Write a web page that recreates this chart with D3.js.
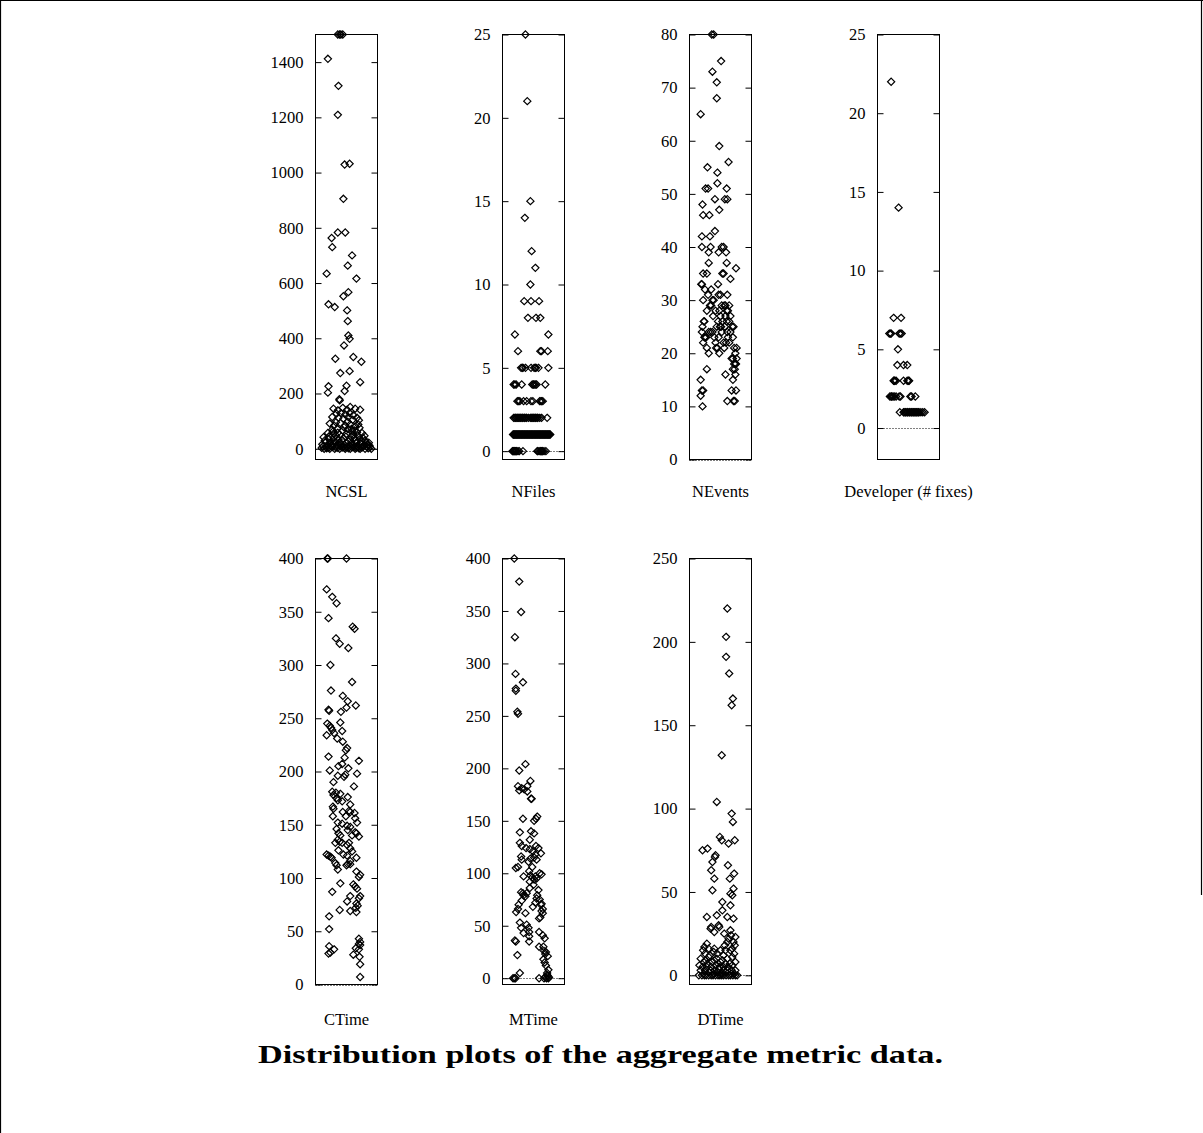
<!DOCTYPE html>
<html>
<head>
<meta charset="utf-8">
<script src="https://cdn.jsdelivr.net/npm/d3@7"></script>
<style>
  html, body { margin: 0; padding: 0; background: #fff; }
  svg { display: block; }
</style>
</head>
<body>
<svg id="chart" width="1203" height="1133"></svg>
<script>
// ---------- DATA (each point: [horizontal jitter 0..1, value]) ----------
const panelNames = ["NCSL", "NFiles", "NEvents", "Developer (# fixes)", "CTime", "MTime", "DTime"];

const ncslTicks = [0, 200, 400, 600, 800, 1000, 1200, 1400];
const nfilesTicks = [0, 5, 10, 15, 20, 25];
const neventsTicks = [0, 10, 20, 30, 40, 50, 60, 70, 80];
const developerTicks = [0, 5, 10, 15, 20, 25];
const ctimeTicks = [0, 50, 100, 150, 200, 250, 300, 350, 400];
const mtimeTicks = [0, 50, 100, 150, 200, 250, 300, 350, 400];
const dtimeTicks = [0, 50, 100, 150, 200, 250];

const ncslDomain = [-39, 1500];
const nfilesDomain = [-0.5, 25];
const neventsDomain = [0, 80];
const developerDomain = [-2, 25];
const ctimeDomain = [0, 400];
const mtimeDomain = [-6, 400];
const dtimeDomain = [-5.5, 250];

const ncslData = [
  [0.36,1500],[0.39,1500],[0.41,1500],[0.44,1500],
  [0.20,1412],[0.37,1314],[0.36,1209],[0.47,1029],[0.55,1032],[0.45,905],
  [0.26,763],[0.36,783],[0.48,783],[0.27,730],[0.59,700],[0.52,663],[0.18,634],[0.66,616],
  [0.21,523],[0.31,513],[0.45,552],[0.53,567],[0.51,501],[0.52,462],[0.53,410],[0.55,398],[0.46,374],
  [0.32,326],[0.61,332],[0.74,315],[0.40,274],[0.55,281],[0.21,226],[0.20,203],[0.50,228],[0.47,209],[0.72,241],
  [0.385,179],[0.39,175],
  [0.29,145],[0.36,139],[0.44,148],[0.51,141],[0.56,151],[0.64,145],[0.72,141],
  [0.34,127],[0.41,129],[0.48,124],[0.55,129],[0.61,121],
  [0.27,115],[0.37,112],[0.45,109],[0.53,115],[0.60,105],[0.67,112],[0.70,103],
  [0.23,91],[0.30,84],[0.40,93],[0.48,84],[0.56,88],[0.64,81],[0.71,76],
  [0.27,69],[0.35,72],[0.44,66],[0.52,71],[0.59,64],[0.67,60],
  [0.20,57],[0.29,54],[0.39,51],[0.50,54],[0.61,52],[0.75,57],[0.79,47],
  [0.28,62],[0.36,58],[0.46,78],[0.58,72],[0.33,96],[0.52,98],[0.63,66],[0.69,88],
  [0.13,42],[0.21,36],[0.29,40],[0.37,33],[0.45,37],[0.55,33],[0.63,39],[0.71,34],[0.80,30],
  [0.15,30],[0.22,45],[0.30,28],[0.33,48],[0.42,30],[0.49,44],[0.53,26],[0.58,44],[0.65,30],[0.69,47],[0.74,26],[0.77,38],
  [0.16,24],[0.24,21],[0.32,25],[0.40,18],[0.50,23],[0.57,18],[0.66,23],[0.73,18],[0.82,21],[0.86,22],
  [0.11,16],[0.26,15],[0.29,18],[0.38,22],[0.46,14],[0.55,12],[0.61,14],[0.84,13],[0.87,12],
  [0.12,8],[0.19,12],[0.27,6],[0.35,11],[0.43,4],[0.51,8],[0.59,5],[0.67,10],[0.75,4],[0.83,7],[0.78,14],[0.88,5],
  [0.17,6],[0.25,9],[0.33,4],[0.41,10],[0.47,3],[0.62,6],[0.69,5],[0.77,9],[0.45,6],
  [0.10,3],[0.14,0],[0.18,2],[0.21,3],[0.23,0],[0.31,0],[0.36,3],[0.39,0],[0.48,0],[0.53,2],[0.56,0],[0.64,0],[0.66,3],[0.70,2],[0.72,0],[0.80,0],[0.85,2],[0.90,0]
];

const nfilesData = [
  [0.37,25],[0.40,21],[0.45,15],[0.36,14],[0.47,12],[0.53,11],[0.45,10],
  [0.35,9],[0.46,9],[0.59,9],[0.41,8],[0.54,8],[0.61,8],[0.20,7],[0.74,7],
  [0.25,6],[0.61,6],[0.63,6],[0.73,6],
  [0.30,5],[0.32,5],[0.33,5],[0.37,5],[0.46,5],[0.51,5],[0.53,5],[0.54,5],[0.58,5],[0.74,5],
  [0.18,4],[0.20,4],[0.22,4],[0.31,4],[0.48,4],[0.50,4],[0.51,4],[0.53,4],[0.55,4],[0.69,4],
  [0.24,3],[0.26,3],[0.28,3],[0.34,3],[0.39,3],[0.46,3],[0.49,3],[0.60,3],[0.62,3],[0.63,3],[0.65,3],
  [0.18,2],[0.20,2],[0.21,2],[0.23,2],[0.24,2],[0.26,2],[0.27,2],[0.29,2],[0.30,2],[0.32,2],[0.33,2],[0.35,2],[0.36,2],[0.38,2],[0.39,2],[0.42,2],[0.45,2],[0.47,2],[0.48,2],[0.50,2],[0.51,2],[0.53,2],[0.54,2],[0.56,2],[0.57,2],[0.60,2],[0.63,2],[0.72,2],
  [0.17,1],[0.18,1],[0.19,1],[0.20,1],[0.21,1],[0.22,1],[0.23,1],[0.24,1],[0.25,1],[0.26,1],[0.27,1],[0.28,1],[0.29,1],[0.30,1],[0.31,1],[0.32,1],[0.33,1],[0.34,1],[0.35,1],[0.36,1],[0.37,1],[0.38,1],[0.39,1],[0.40,1],[0.41,1],[0.42,1],[0.43,1],[0.44,1],[0.45,1],[0.46,1],[0.47,1],[0.48,1],[0.49,1],[0.50,1],[0.51,1],[0.52,1],[0.53,1],[0.54,1],[0.55,1],[0.56,1],[0.57,1],[0.58,1],[0.59,1],[0.60,1],[0.61,1],[0.62,1],[0.63,1],[0.64,1],[0.65,1],[0.66,1],[0.67,1],[0.68,1],[0.69,1],[0.70,1],[0.71,1],[0.72,1],[0.73,1],[0.74,1],[0.75,1],[0.76,1],[0.77,1],
  [0.16,0],[0.17,0],[0.18,0],[0.19,0],[0.20,0],[0.21,0],[0.22,0],[0.23,0],[0.25,0],[0.27,0],[0.33,0],
  [0.56,0],[0.57,0],[0.59,0],[0.61,0],[0.62,0],[0.63,0],[0.64,0],[0.65,0],[0.67,0],[0.70,0]
];

const neventsData = [
  [0.36,80],[0.39,80],[0.51,75],[0.37,73],[0.44,71],[0.44,68],[0.18,65],[0.48,59],[0.63,56],[0.29,55],[0.45,54],[0.45,52],
  [0.26,51],[0.30,51],[0.60,51],[0.41,49],[0.57,49],[0.61,49],[0.21,48],[0.48,47],[0.22,46],[0.32,46],[0.41,43],[0.20,42],[0.33,42],
  [0.20,40],[0.34,40],[0.52,40],[0.55,40],[0.31,39],[0.47,39],[0.59,39],[0.31,37],[0.60,37],[0.75,36],
  [0.22,35],[0.28,35],[0.53,35],[0.55,35],[0.66,34],[0.19,33],[0.20,33],[0.46,33],[0.25,32],[0.35,32],
  [0.30,31],[0.47,31],[0.50,31],[0.61,31],[0.22,30],[0.37,30],[0.39,30],
  [0.33,29],[0.35,29],[0.52,29],[0.56,29],[0.58,29],[0.64,29],
  [0.28,28],[0.42,28],[0.48,28],[0.60,28],[0.62,28],
  [0.38,27],[0.50,27],[0.58,27],[0.66,27],
  [0.23,26],[0.24,26],[0.46,26],[0.53,26],[0.60,26],[0.64,26],
  [0.21,25],[0.44,25],[0.49,25],[0.51,25],[0.57,25],[0.69,25],[0.71,25],
  [0.20,24],[0.31,24],[0.34,24],[0.37,24],[0.52,24],[0.61,24],[0.66,24],
  [0.24,23],[0.25,23],[0.27,23],[0.40,23],[0.47,23],[0.62,23],[0.70,23],
  [0.22,22],[0.42,22],[0.55,22],[0.59,22],[0.64,22],
  [0.28,21],[0.43,21],[0.45,21],[0.56,21],[0.72,21],[0.76,21],
  [0.31,20],[0.48,20],[0.74,20],
  [0.68,19],[0.70,19],[0.76,19],[0.72,18],[0.74,18],[0.75,18],
  [0.28,17],[0.70,17],[0.73,17],[0.58,16],[0.74,16],[0.18,15],[0.70,15],
  [0.20,13],[0.22,13],[0.68,13],[0.75,13],[0.18,12],[0.61,11],[0.71,11],[0.73,11],[0.21,10]
];

const developerData = [
  [0.22,22],[0.34,14],[0.26,7],[0.38,7],[0.19,6],[0.21,6],[0.22,6],[0.35,6],[0.37,6],[0.39,6],[0.33,5],
  [0.32,4],[0.42,4],[0.48,4],
  [0.26,3],[0.27,3],[0.28,3],[0.30,3],[0.42,3],[0.48,3],[0.50,3],[0.51,3],
  [0.20,2],[0.22,2],[0.23,2],[0.25,2],[0.27,2],[0.30,2],[0.35,2],[0.37,2],[0.53,2],[0.55,2],[0.61,2],
  [0.36,1],[0.42,1],[0.43,1],[0.45,1],[0.46,1],[0.48,1],[0.49,1],[0.51,1],[0.52,1],[0.54,1],[0.55,1],[0.57,1],[0.58,1],[0.60,1],[0.61,1],[0.63,1],[0.64,1],[0.66,1],[0.67,1],[0.70,1],[0.73,1],[0.76,1]
];

const ctimeData = [
  [0.19,400],[0.20,400],[0.50,400],[0.18,371],[0.27,364],[0.34,358],[0.21,344],[0.60,336],[0.63,334],
  [0.33,325],[0.39,320],[0.53,316],[0.24,300],[0.59,284],[0.25,276],[0.44,271],[0.52,266],[0.65,262],[0.50,260],
  [0.21,258],[0.22,257],[0.41,256],[0.40,246],[0.19,245],[0.23,243],[0.25,241],[0.27,239],[0.43,238],[0.30,236],
  [0.18,234],[0.35,231],[0.44,228],[0.51,222],[0.49,220],[0.47,213],[0.21,214],[0.70,210],[0.43,207],
  [0.53,203],[0.37,205],[0.23,201],[0.67,198],[0.36,196],[0.48,197],[0.46,195],[0.29,190],[0.62,186],
  [0.27,181],[0.33,180],[0.40,179],[0.29,178],[0.34,175],[0.36,173],[0.52,176],[0.43,172],[0.56,169],
  [0.28,167],[0.29,165],[0.54,163],[0.56,162],[0.44,162],[0.63,161],[0.49,158],[0.28,158],[0.64,156],
  [0.36,152],[0.67,152],[0.43,151],[0.56,148],[0.51,149],[0.34,146],[0.52,145],[0.64,143],[0.66,142],
  [0.37,142],[0.40,140],[0.59,140],[0.70,139],[0.36,136],[0.39,134],[0.43,133],[0.54,133],[0.32,133],[0.51,131],
  [0.56,128],[0.37,126],[0.59,125],[0.18,122],[0.21,121],[0.45,122],[0.51,121],[0.24,120],[0.26,119],[0.66,119],
  [0.56,116],[0.32,114],[0.52,113],[0.56,113],[0.34,112],[0.50,112],[0.36,108],[0.66,106],
  [0.72,103],[0.70,101],[0.40,95],[0.61,94],[0.64,92],[0.67,90],[0.27,87],[0.56,83],[0.72,83],[0.70,81],
  [0.51,78],[0.66,76],[0.68,74],[0.65,72],[0.39,70],[0.56,69],[0.66,68],[0.22,64],[0.22,52],
  [0.70,43],[0.72,40],[0.70,38],[0.22,36],[0.72,37],[0.30,33],[0.65,34],[0.70,33],[0.24,30],[0.21,29],[0.61,28],
  [0.71,26],[0.72,19],[0.72,7]
];

const mtimeData = [
  [0.19,400],[0.27,378],[0.30,349],[0.20,325],[0.21,290],[0.33,282],[0.215,276],[0.215,274],[0.24,254],[0.25,252],
  [0.37,204],[0.27,198],[0.45,188],[0.25,183],[0.40,183],[0.31,181],[0.27,179],[0.35,180],[0.40,178],
  [0.47,171],[0.46,171],[0.56,154],[0.54,152],[0.33,152],[0.51,150],
  [0.28,139],[0.46,140],[0.51,138],[0.44,132],[0.28,129],[0.31,126],[0.54,126],[0.58,124],[0.38,124],[0.44,123],
  [0.49,121],[0.62,119],[0.53,118],[0.30,116],[0.31,113],[0.45,114],[0.55,113],[0.51,115],[0.42,111],
  [0.48,106],[0.215,105],[0.25,106],[0.43,102],[0.60,100],[0.63,99],[0.45,98],[0.48,96],[0.34,97],[0.53,97],
  [0.51,94],[0.44,92],[0.55,95],[0.50,89],[0.58,84],[0.44,86],[0.30,82],[0.33,81],[0.39,81],
  [0.34,79],[0.37,78],[0.56,79],[0.60,75],[0.55,76],[0.31,74],[0.63,71],[0.26,70],[0.53,72],[0.62,70],
  [0.49,68],[0.65,66],[0.25,66],[0.63,64],[0.65,62],[0.22,63],[0.37,62],[0.61,58],[0.59,57],
  [0.28,53],[0.39,51],[0.42,48],[0.30,48],[0.34,43],[0.43,44],[0.59,44],[0.43,40],[0.65,41],[0.68,38],
  [0.20,36],[0.215,35],[0.43,35],[0.59,30],[0.66,30],[0.67,26],[0.70,25],[0.69,23],[0.73,21],[0.24,22],
  [0.66,18],[0.68,15],[0.70,12],[0.74,8],[0.28,5],[0.72,5],[0.73,2],
  [0.17,0],[0.19,0],[0.21,0],[0.59,0],[0.67,0],[0.69,1],[0.71,0],[0.72,3],[0.74,0],[0.75,1]
];

const dtimeData = [
  [0.61,220],[0.59,203],[0.59,191],[0.64,181],[0.70,166],[0.68,162],[0.52,132],[0.44,104],
  [0.68,97],[0.70,92],[0.49,83],[0.52,81],[0.73,81],[0.63,79],[0.21,75],[0.29,76],[0.42,72],[0.41,71],
  [0.37,68],[0.62,66],[0.35,63],[0.72,61],[0.40,58],[0.65,58],[0.71,52],[0.37,51],[0.66,49],[0.69,48],
  [0.53,44],[0.66,42],[0.53,39],[0.28,35],[0.44,36],[0.61,35],[0.71,34],
  [0.47,30],[0.48,29],[0.35,29],[0.34,28],[0.66,27],[0.56,25],[0.40,26],[0.67,24],[0.74,23],[0.63,22],
  [0.61,20],[0.28,19],[0.71,20],[0.57,18],[0.24,17],[0.73,18],[0.40,16],[0.31,16],[0.58,15],[0.69,16],
  [0.22,15],[0.50,15],[0.66,15],[0.25,13],[0.39,14],[0.55,12],[0.72,13],[0.45,13],[0.33,12],
  [0.18,10],[0.31,11],[0.44,10],[0.61,10],[0.69,11],[0.26,9],[0.53,9],[0.40,9],
  [0.23,8],[0.36,8],[0.50,8],[0.65,7],[0.74,8],[0.29,7],[0.46,7],[0.58,7],
  [0.16,6],[0.28,5],[0.42,6],[0.55,5],[0.69,6],[0.21,5],[0.35,5],[0.49,5],[0.62,5],
  [0.18,3],[0.34,3],[0.47,4],[0.61,3],[0.74,3],[0.25,3],[0.40,3],[0.54,3],[0.68,3],
  [0.23,1],[0.39,1],[0.52,1],[0.67,1],[0.31,2],[0.45,2],[0.58,2],[0.72,1],
  [0.15,0],[0.20,0],[0.24,0],[0.27,0],[0.31,0],[0.35,0],[0.38,0],[0.42,0],[0.46,0],[0.49,0],[0.52,0],[0.55,0],[0.59,0],[0.63,0],[0.66,0],[0.70,0],[0.74,0],[0.77,0]
];

// ---------- LAYOUT ----------
const panels = [
  { label: panelNames[0], col: 0, row: 0, domain: ncslDomain, ticks: ncslTicks, data: ncslData },
  { label: panelNames[1], col: 1, row: 0, domain: nfilesDomain, ticks: nfilesTicks, data: nfilesData },
  { label: panelNames[2], col: 2, row: 0, domain: neventsDomain, ticks: neventsTicks, data: neventsData },
  { label: panelNames[3], col: 3, row: 0, domain: developerDomain, ticks: developerTicks, data: developerData },
  { label: panelNames[4], col: 0, row: 1, domain: ctimeDomain, ticks: ctimeTicks, data: ctimeData },
  { label: panelNames[5], col: 1, row: 1, domain: mtimeDomain, ticks: mtimeTicks, data: mtimeData },
  { label: panelNames[6], col: 2, row: 1, domain: dtimeDomain, ticks: dtimeTicks, data: dtimeData }
];

const colLeft = [315, 502, 689, 877];
const boxW = 62;
const rowTop = [34, 558];
const rowBottom = [459, 984];
const labelBaseline = [497, 1025];
const fontFamily = "'Liberation Serif', 'Times New Roman', serif";

const svg = d3.select("#chart");

// page frame
svg.append("line").attr("x1", 0.5).attr("x2", 0.5).attr("y1", 0).attr("y2", 1133)
  .attr("stroke", "#000").attr("stroke-width", 1.2);
svg.append("line").attr("x1", 0).attr("x2", 1203).attr("y1", 0.5).attr("y2", 0.5)
  .attr("stroke", "#000").attr("stroke-width", 1.2);
svg.append("line").attr("x1", 1201.5).attr("x2", 1201.5).attr("y1", 0).attr("y2", 895)
  .attr("stroke", "#000").attr("stroke-width", 1.2);

const diamond = "M0,-3.6L3.6,0L0,3.6L-3.6,0Z";

panels.forEach(p => {
  const x0 = colLeft[p.col] + 0.5;
  const x1 = x0 + boxW;
  const yTop = rowTop[p.row] + 0.5;
  const yBot = rowBottom[p.row] + 0.5;

  const y = d3.scaleLinear().domain(p.domain).range([yBot, yTop]);
  const xj = d3.scaleLinear().domain([0, 1]).range([x0, x1]);

  const g = svg.append("g");

  // zero line (dotted)
  if (p.domain[0] <= 0 && p.domain[1] >= 0) {
    g.append("line")
      .attr("x1", x0).attr("x2", x1)
      .attr("y1", Math.round(y(0)) + 0.5).attr("y2", Math.round(y(0)) + 0.5)
      .attr("stroke", "#000").attr("stroke-width", 1)
      .attr("stroke-dasharray", "1,2");
  }

  // left axis (labels + inward ticks)
  const leftAxis = d3.axisLeft(y).tickValues(p.ticks).tickFormat(d3.format("d"))
    .tickSizeInner(-6).tickSizeOuter(0).tickPadding(12);
  const la = g.append("g").attr("transform", `translate(${x0},0)`).call(leftAxis);
  la.select(".domain").remove();
  la.selectAll(".tick line").attr("stroke", "#000");
  la.selectAll(".tick text")
    .attr("font-family", fontFamily).attr("font-size", 16.5).attr("fill", "#000");

  // right axis (inward ticks only)
  const rightAxis = d3.axisRight(y).tickValues(p.ticks).tickSizeInner(-6).tickSizeOuter(0).tickFormat("");
  const ra = g.append("g").attr("transform", `translate(${x1},0)`).call(rightAxis);
  ra.select(".domain").remove();
  ra.selectAll(".tick line").attr("stroke", "#000");

  // box
  g.append("rect")
    .attr("x", x0).attr("y", yTop).attr("width", x1 - x0).attr("height", yBot - yTop)
    .attr("fill", "none").attr("stroke", "#000").attr("stroke-width", 1);

  // points
  g.selectAll("path.pt").data(p.data).enter().append("path")
    .attr("class", "pt")
    .attr("d", diamond)
    .attr("transform", d => `translate(${xj(d[0])},${y(d[1])})`)
    .attr("fill", "none")
    .attr("stroke", "#000")
    .attr("stroke-width", 1.2);

  // x label
  g.append("text")
    .attr("x", (x0 + x1) / 2).attr("y", labelBaseline[p.row])
    .attr("text-anchor", "middle")
    .attr("font-family", fontFamily).attr("font-size", 16.5).attr("fill", "#000")
    .text(p.label);
});

// caption
svg.append("text")
  .attr("x", 600.5).attr("y", 1063)
  .attr("text-anchor", "middle")
  .attr("font-family", fontFamily)
  .attr("font-weight", "bold")
  .attr("font-size", 25)
  .attr("textLength", 685)
  .attr("lengthAdjust", "spacingAndGlyphs")
  .attr("fill", "#000")
  .text("Distribution plots of the aggregate metric data.");
</script>
</body>
</html>
